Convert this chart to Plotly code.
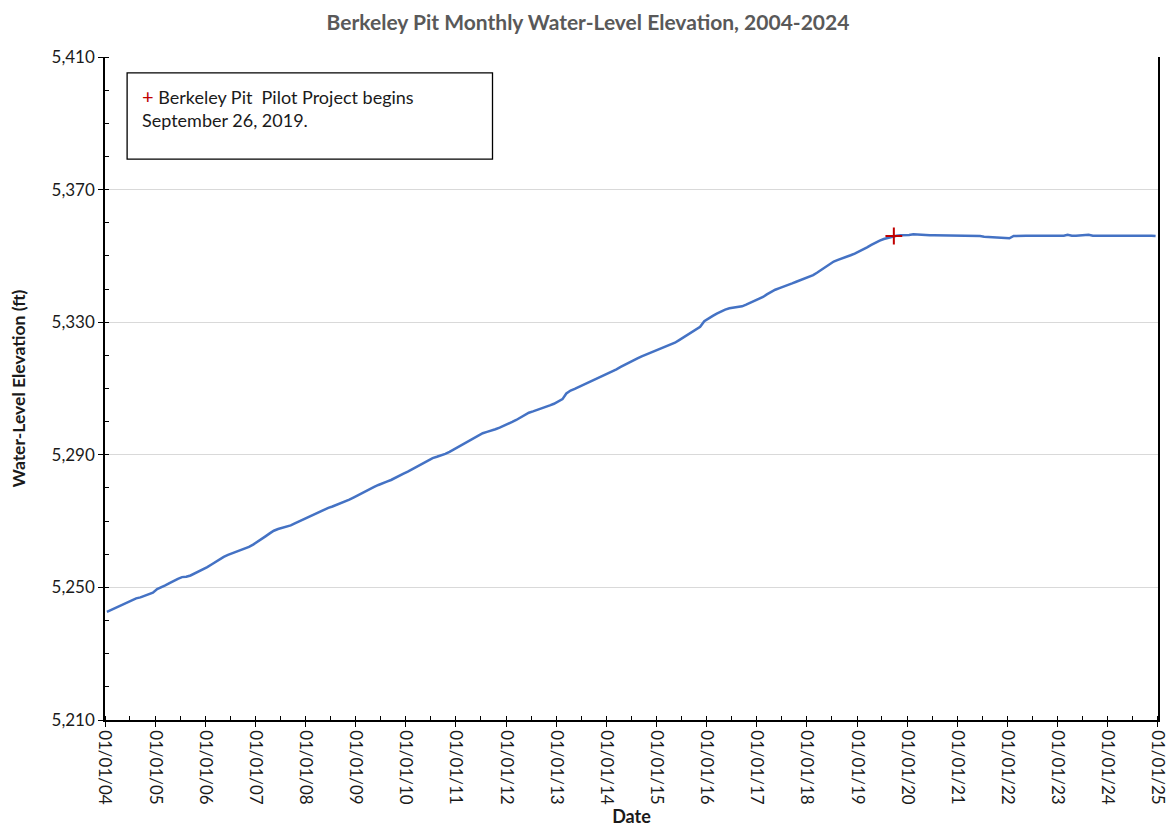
import pandas as pd
import plotly.graph_objects as go

# monthly readings, ft (Jan..Dec per year)
elev_2004 = [5242.6, 5243.2, 5243.8, 5244.4, 5244.9, 5245.5, 5246.2, 5246.7, 5247.0, 5247.4, 5247.9, 5248.4]
elev_2005 = [5249.5, 5250.0, 5250.6, 5251.3, 5252.0, 5252.6, 5253.1, 5253.2, 5253.6, 5254.2, 5254.8, 5255.4]
elev_2006 = [5256.1, 5256.9, 5257.7, 5258.5, 5259.2, 5259.8, 5260.3, 5260.7, 5261.1, 5261.6, 5262.2, 5262.9]
elev_2007 = [5263.7, 5264.6, 5265.4, 5266.3, 5267.1, 5267.6, 5267.9, 5268.2, 5268.7, 5269.3, 5269.9, 5270.5]
elev_2008 = [5271.1, 5271.7, 5272.3, 5272.9, 5273.5, 5274.0, 5274.4, 5274.9, 5275.5, 5276.0, 5276.5, 5277.1]
elev_2009 = [5277.8, 5278.5, 5279.1, 5279.7, 5280.3, 5280.9, 5281.5, 5281.9, 5282.4, 5283.1, 5283.7, 5284.3]
elev_2010 = [5284.9, 5285.6, 5286.3, 5287.0, 5287.6, 5288.3, 5289.0, 5289.4, 5289.8, 5290.3, 5290.9, 5291.6]
elev_2011 = [5292.3, 5293.0, 5293.7, 5294.4, 5295.1, 5295.8, 5296.5, 5296.9, 5297.2, 5297.7, 5298.2, 5298.7]
elev_2012 = [5299.3, 5299.9, 5300.5, 5301.2, 5302.0, 5302.7, 5303.1, 5303.5, 5303.9, 5304.4, 5304.9, 5305.4]
elev_2013 = [5306.0, 5306.8, 5308.5, 5309.4, 5309.9, 5310.5, 5311.1, 5311.6, 5312.1, 5312.7, 5313.4, 5314.0]
elev_2014 = [5314.6, 5315.2, 5315.8, 5316.5, 5317.2, 5317.9, 5318.5, 5319.1, 5319.7, 5320.2, 5320.7, 5321.2]
elev_2015 = [5321.7, 5322.2, 5322.7, 5323.2, 5323.8, 5324.6, 5325.4, 5326.2, 5327.0, 5327.8, 5328.6, 5330.3]
elev_2016 = [5331.2, 5331.9, 5332.6, 5333.3, 5333.8, 5334.2, 5334.4, 5334.6, 5334.8, 5335.3, 5335.9, 5336.5]
elev_2017 = [5337.0, 5337.6, 5338.4, 5339.2, 5339.8, 5340.3, 5340.7, 5341.2, 5341.7, 5342.2, 5342.7, 5343.1]
elev_2018 = [5343.6, 5344.2, 5344.9, 5345.7, 5346.6, 5347.5, 5348.3, 5348.8, 5349.2, 5349.7, 5350.2, 5350.7]
elev_2019 = [5351.3, 5351.9, 5352.6, 5353.3, 5354.0, 5354.6, 5355.1, 5355.5, 5355.9, 5356.1, 5356.2, 5356.2]
elev_2020 = [5356.3, 5356.5, 5356.4, 5356.2, 5356.2, 5356.2, 5356.2, 5356.2, 5356.2, 5356.2, 5356.2, 5356.2]
elev_2021 = [5356.2, 5356.2, 5356.2, 5356.2, 5356.2, 5356.0, 5355.8, 5355.7, 5355.7, 5355.7, 5355.5, 5355.3]
elev_2022 = [5355.3, 5356.0, 5356.1, 5356.1, 5356.1, 5356.1, 5356.1, 5356.1, 5356.1, 5356.1, 5356.1, 5356.1]
elev_2023 = [5356.1, 5356.1, 5356.4, 5356.1, 5356.1, 5356.2, 5356.5, 5356.4, 5356.1, 5356.1, 5356.1, 5356.1]
elev_2024 = [5356.1, 5356.1, 5356.1, 5356.1, 5356.1, 5356.3, 5356.1, 5356.1, 5356.1, 5356.1, 5356.1, 5356.0]

pilot_date = ["2019-09-26"]
pilot_elev = [5356.0]

elevations = (elev_2004 + elev_2005 + elev_2006 + elev_2007 + elev_2008 + elev_2009
              + elev_2010 + elev_2011 + elev_2012 + elev_2013 + elev_2014 + elev_2015
              + elev_2016 + elev_2017 + elev_2018 + elev_2019 + elev_2020 + elev_2021
              + elev_2022 + elev_2023 + elev_2024)
dates = pd.date_range("2004-01-01", periods=len(elevations), freq="MS") + pd.Timedelta(days=14)

font = "Lato, 'Open Sans', sans-serif"

fig = go.Figure()
fig.add_trace(go.Scatter(x=dates, y=elevations, mode="lines",
                         line=dict(color="#4472C4", width=2.5),
                         showlegend=False))
fig.add_trace(go.Scatter(x=pilot_date, y=pilot_elev, mode="markers",
                         marker=dict(symbol="cross-thin", size=12,
                                     line=dict(color="#C00000", width=2)),
                         showlegend=False))

# note box
fig.add_shape(type="rect", xref="paper", yref="paper",
              x0=0.021, x1=0.368, y0=0.846, y1=0.976,
              line=dict(color="black", width=1.3), fillcolor="white")
fig.add_annotation(xref="paper", yref="paper", x=0.0337, y=0.962,
                   xanchor="left", yanchor="top", align="left", showarrow=False,
                   text="<span style='color:#C00000;font-size:20px'>+</span> Berkeley Pit  Pilot Project begins<br>September 26, 2019.",
                   font=dict(family=font, size=18, color="#1a1a1a"))

# page body adds an 8px margin, so the figure is sized to fit inside it
fig.update_layout(
    width=1160, height=820,
    margin=dict(l=97, r=10, t=49, b=108),
    paper_bgcolor="white", plot_bgcolor="white",
    font=dict(family=font, color="#1a1a1a"),
    title=dict(text="<b>Berkeley Pit Monthly Water-Level Elevation, 2004-2024</b>",
               x=0.5, xanchor="center", y=0.9817, yanchor="middle",
               font=dict(size=21, color="#595959")),
)
fig.update_xaxes(
    type="date", range=["2004-01-01", "2025-01-01 12:00"], automargin=False,
    tick0="2004-01-01", dtick="M12", tickformat="%m/%d/%y", tickangle=90,
    ticklabeloverflow="allow",
    tickfont=dict(size=17, color="#1a1a1a"),
    ticks="outside", ticklen=5, tickcolor="black",
    minor=dict(dtick="M6", tick0="2004-07-01", ticks="inside", ticklen=4, tickcolor="black"),
    showline=True, linecolor="black", linewidth=1.5, showgrid=False,
    title=dict(text="<b>Date</b>", font=dict(size=18), standoff=2),
)
fig.update_yaxes(
    range=[5210, 5410], tick0=5210, dtick=40, tickformat=",d", automargin=False,
    tickfont=dict(size=17, color="#1a1a1a"),
    ticks="outside", ticklen=5, tickcolor="black",
    minor=dict(dtick=10, ticks="inside", ticklen=4, tickcolor="black", showgrid=False),
    showline=True, linecolor="black", linewidth=1.5, mirror=True,
    showgrid=True, gridcolor="#d9d9d9", gridwidth=1, zeroline=False,
    title=dict(text="<b>Water-Level Elevation (ft)</b>", font=dict(size=17.5), standoff=22),
)

fig.write_html("out.html")
